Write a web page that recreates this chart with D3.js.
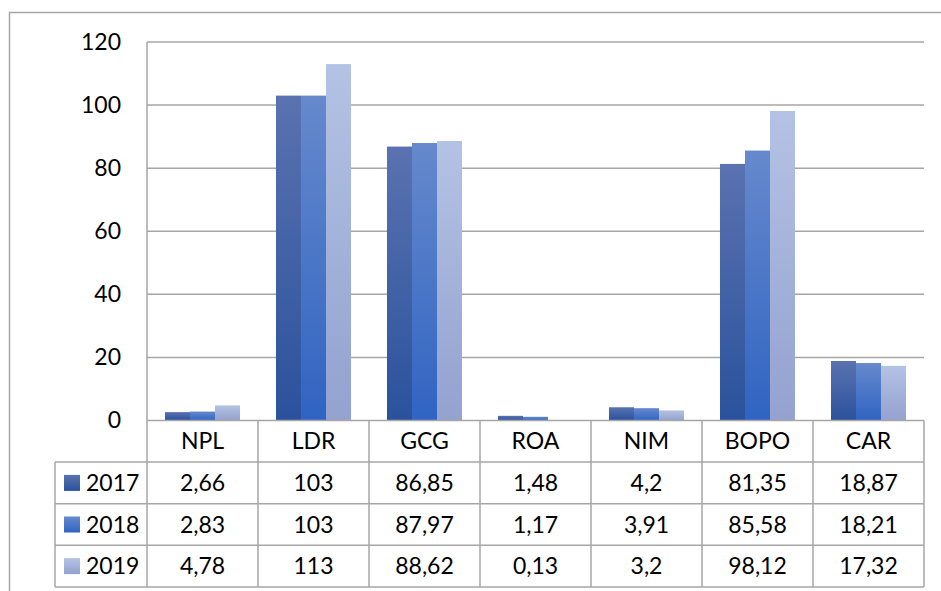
<!DOCTYPE html>
<html>
<head>
<meta charset="utf-8">
<script src="https://cdn.jsdelivr.net/npm/d3@7"></script>
<style>
  html, body { margin: 0; padding: 0; background: #fff; }
  svg { display: block; font-family: Lato, "Open Sans", sans-serif; }
</style>
</head>
<body>
<svg id="chart" width="941" height="591"></svg>
<script>
// Bank ratio indicators by year
const categories = ["NPL", "LDR", "GCG", "ROA", "NIM", "BOPO", "CAR"];
const years = ["2017", "2018", "2019"];
const values2017 = [2.66, 103, 86.85, 1.48, 4.2, 81.35, 18.87];
const values2018 = [2.83, 103, 87.97, 1.17, 3.91, 85.58, 18.21];
const values2019 = [4.78, 113, 88.62, 0.13, 3.2, 98.12, 17.32];
const yTicks = [0, 20, 40, 60, 80, 100, 120];

const seriesValues = [values2017, values2018, values2019];
// top / bottom gradient stops for each year
const seriesColors = [
  ["#5a72b0", "#2a529c"],
  ["#6689cc", "#3064c2"],
  ["#b4c2e4", "#93a2cf"]
];

const svg = d3.select("#chart");
const plot = { left: 147, right: 924, top: 42, bottom: 420.5 };
const rowH = 41.6;
const tableLeft = 55;
const gridColor = "#a6a6a6";
const fontSize = 23;

const x0 = d3.scaleBand().domain(categories).range([plot.left, plot.right]).padding(0);
const x1 = d3.scaleBand().domain(years)
  .range([x0.bandwidth() * 0.162, x0.bandwidth() * 0.838]).padding(0);
const y = d3.scaleLinear().domain([0, 120]).range([plot.bottom, plot.top]);

const fmt = d3.formatLocale({ decimal: ",", thousands: ".", grouping: [3], currency: ["", ""] }).format("~f");

// gradients
const defs = svg.append("defs");
seriesColors.forEach((c, i) => {
  const g = defs.append("linearGradient").attr("id", "grad" + i)
    .attr("x1", 0).attr("y1", 0).attr("x2", 0).attr("y2", 1);
  g.append("stop").attr("offset", "0%").attr("stop-color", c[0]);
  g.append("stop").attr("offset", "100%").attr("stop-color", c[1]);
});

// outer frame
svg.append("path")
  .attr("d", `M9.5,591 V12.5 H941`)
  .attr("fill", "none").attr("stroke", gridColor).attr("stroke-width", 1.5);

// gridlines
svg.append("g").selectAll("line").data(yTicks.filter(t => t > 0)).join("line")
  .attr("x1", plot.left).attr("x2", plot.right)
  .attr("y1", d => y(d)).attr("y2", d => y(d))
  .attr("stroke", gridColor).attr("stroke-width", 1.5);

// y axis labels
const yAxis = d3.axisLeft(y).tickValues(yTicks).tickSize(0).tickPadding(0);
const yg = svg.append("g").attr("transform", `translate(121,0)`).call(yAxis);
yg.select(".domain").remove();
yg.selectAll("text").attr("font-size", fontSize).attr("fill", "#000")
  .attr("font-family", "Lato, 'Open Sans', sans-serif");

// bars
const groups = svg.append("g").selectAll("g").data(categories).join("g")
  .attr("transform", d => `translate(${x0(d)},0)`);
groups.selectAll("rect")
  .data((c, ci) => years.map((yr, si) => ({ yr, si, v: seriesValues[si][ci] })))
  .join("rect")
  .attr("x", d => x1(d.yr))
  .attr("width", x1.bandwidth())
  .attr("y", d => y(d.v))
  .attr("height", d => y(0) - y(d.v))
  .attr("fill", d => `url(#grad${d.si})`);

// table lines
const tbl = svg.append("g").attr("stroke", gridColor).attr("stroke-width", 1.5);
const tableBottom = plot.bottom + rowH * 4;
// axis / header top line
tbl.append("line").attr("x1", plot.left).attr("x2", plot.right)
  .attr("y1", plot.bottom).attr("y2", plot.bottom);
// row lines
[1, 2, 3, 4].forEach(r => {
  tbl.append("line").attr("x1", tableLeft).attr("x2", plot.right)
    .attr("y1", plot.bottom + rowH * r).attr("y2", plot.bottom + rowH * r);
});
// left plot edge
tbl.append("line").attr("x1", plot.left).attr("x2", plot.left)
  .attr("y1", plot.top).attr("y2", tableBottom);
// legend column left edge
tbl.append("line").attr("x1", tableLeft).attr("x2", tableLeft)
  .attr("y1", plot.bottom + rowH).attr("y2", tableBottom);
// category separators
categories.forEach(c => {
  const xe = x0(c) + x0.bandwidth();
  tbl.append("line").attr("x1", xe).attr("x2", xe)
    .attr("y1", plot.bottom).attr("y2", tableBottom);
});

// header text
svg.append("g").selectAll("text").data(categories).join("text")
  .attr("x", d => x0(d) + x0.bandwidth() / 2)
  .attr("y", plot.bottom + rowH / 2)
  .attr("dy", "0.35em")
  .attr("text-anchor", "middle")
  .attr("font-size", fontSize)
  .text(d => d);

// data rows
years.forEach((yr, si) => {
  const cy = plot.bottom + rowH * (si + 1) + rowH / 2;
  svg.append("rect")
    .attr("x", 64).attr("y", cy - 8).attr("width", 16).attr("height", 16)
    .attr("fill", `url(#grad${si})`);
  svg.append("text")
    .attr("x", 86).attr("y", cy).attr("dy", "0.35em")
    .attr("font-size", fontSize).text(yr);
  svg.append("g").selectAll("text").data(categories).join("text")
    .attr("x", d => x0(d) + x0.bandwidth() / 2)
    .attr("y", cy).attr("dy", "0.35em")
    .attr("text-anchor", "middle")
    .attr("font-size", fontSize)
    .text((d, ci) => fmt(seriesValues[si][ci]));
});
</script>
</body>
</html>
